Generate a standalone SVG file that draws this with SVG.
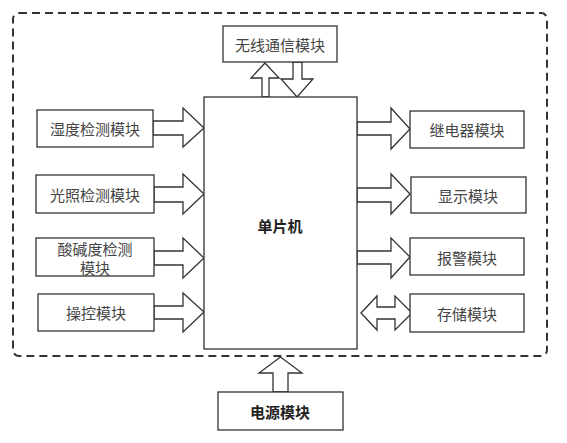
<svg xmlns="http://www.w3.org/2000/svg" width="567" height="443" viewBox="0 0 567 443">
<style>
.box{fill:#fff;stroke:#333;stroke-width:1.3}
.arr{fill:#fff;stroke:#333;stroke-width:1.3;stroke-linejoin:miter}
.t{font-family:"Noto Sans CJK SC","Noto Sans",sans-serif;font-size:15px;fill:#444;text-anchor:middle;dominant-baseline:central}
.b{font-weight:bold;fill:#222}
</style>
<rect x="0" y="0" width="567" height="443" fill="#fff"/>
<rect x="13" y="13" width="534" height="343" rx="6" fill="none" stroke="#333" stroke-width="2" stroke-dasharray="8,5"/>
<g id="connectors">
<path class="arr" d="M262,97 V78 H251 L265,63 L279,78 H269 V97 Z"/>
<path class="arr" d="M293,62 V79 H281 L297,97 L313,79 H302 V62 Z"/>
<path class="arr" d="M153,121 H183 V108 L204,128 L183,147 V135 H153 Z"/>
<path class="arr" d="M154,187 H183 V174 L204,194 L183,214 V202 H154 Z"/>
<path class="arr" d="M154,251 H183 V238 L204,258 L183,278 V265 H154 Z"/>
<path class="arr" d="M154,306 H183 V293 L204,312 L183,332 V319 H154 Z"/>
<path class="arr" d="M357,122 H391 V108 L410,129 L391,149 V135 H357 Z"/>
<path class="arr" d="M357,188 H391 V174 L410,194 L391,214 V202 H357 Z"/>
<path class="arr" d="M357,251 H391 V238 L410,257 L391,278 V264 H357 Z"/>
<path class="arr" d="M361,313 L377,296 V307 H395 V296 L412,313 L395,330 V319 H377 V330 Z"/>
<path class="arr" d="M273,392 V373 H259 L280.5,357 L302,373 H288 V392 Z"/>
</g>
<g id="mcu"><rect class="box" x="204" y="97" width="153" height="252"/><text class="t b" x="280" y="225">单片机</text></g>
<g id="wireless"><rect class="box" x="223" y="26" width="114" height="36"/><text class="t" x="280" y="44">无线通信模块</text></g>
<g id="humidity"><rect class="box" x="37" y="110" width="116" height="37"/><text class="t" x="95" y="128">湿度检测模块</text></g>
<g id="light"><rect class="box" x="36" y="175" width="118" height="38"/><text class="t" x="95" y="194">光照检测模块</text></g>
<g id="ph"><rect class="box" x="36" y="238" width="118" height="38"/><text class="t" x="95" y="248">酸碱度检测</text><text class="t" x="95" y="267">模块</text></g>
<g id="control"><rect class="box" x="38" y="294" width="116" height="37"/><text class="t" x="96" y="312">操控模块</text></g>
<g id="relay"><rect class="box" x="410" y="111" width="114" height="37"/><text class="t" x="467" y="129">继电器模块</text></g>
<g id="display"><rect class="box" x="411" y="177" width="115" height="36"/><text class="t" x="468" y="195">显示模块</text></g>
<g id="alarm"><rect class="box" x="410" y="238" width="114" height="37"/><text class="t" x="467" y="257">报警模块</text></g>
<g id="storage"><rect class="box" x="410" y="294" width="114" height="38"/><text class="t" x="467" y="313">存储模块</text></g>
<g id="power"><rect class="box" x="218" y="392" width="125" height="38"/><text class="t b" x="280" y="411">电源模块</text></g>
</svg>
